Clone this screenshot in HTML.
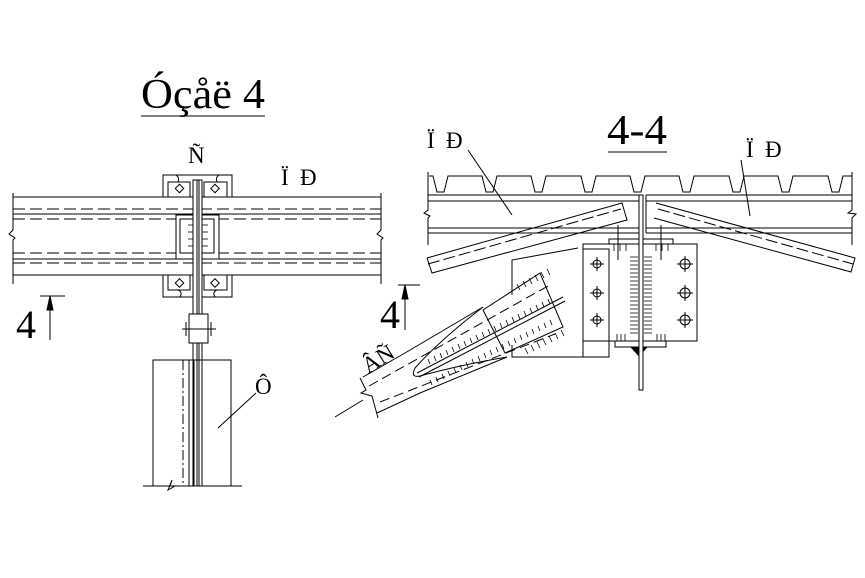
<!DOCTYPE html>
<html><head><meta charset="utf-8"><style>
html,body{margin:0;padding:0;background:#fff;}
svg{display:block;}
text{font-family:"Liberation Serif",serif;fill:#000;}
</style></head><body>
<svg width="865" height="578" viewBox="0 0 865 578" xmlns="http://www.w3.org/2000/svg">
<g stroke="#000" stroke-width="1" fill="none">
<!-- LEFT VIEW -->
<line x1="13" y1="197" x2="381" y2="197"/>
<line x1="13" y1="214" x2="381" y2="214"/>
<line x1="13" y1="259" x2="381" y2="259"/>
<line x1="13" y1="275" x2="381" y2="275"/>
<g stroke-dasharray="12,5">
<line x1="13" y1="209" x2="381" y2="209"/>
<line x1="13" y1="219" x2="381" y2="219"/>
<line x1="13" y1="253" x2="381" y2="253"/>
<line x1="13" y1="263" x2="381" y2="263"/>
</g>
<polyline points="13,193 13,230 9,234 15,238 13,240 13,284"/>
<polyline points="381,193 381,230 377,234 383,238 381,240 381,284"/>
<rect x="163" y="175" width="69" height="22" fill="#fff"/>
<rect x="168" y="182" width="22" height="15"/>
<rect x="204" y="182" width="23" height="15"/>
<rect x="176.5" y="185.5" width="6" height="6" transform="rotate(45 179.5 188.5)"/>
<rect x="212" y="185.5" width="6" height="6" transform="rotate(45 215 188.5)"/>
<rect x="163" y="275" width="69" height="22" fill="#fff"/>
<rect x="168" y="275" width="22" height="15"/>
<rect x="204" y="275" width="23" height="15"/>
<rect x="176.5" y="280" width="6" height="6" transform="rotate(45 179.5 283)"/>
<rect x="212" y="280" width="6" height="6" transform="rotate(45 215 283)"/>
<path d="M178,290 Q183,292 180,297 M217,290 Q212,292 215,297"/>
<path d="M178,182 Q180,178 176,175 M217,182 Q215,178 219,175"/>
<rect x="176" y="215" width="43" height="44" fill="#fff"/>
<rect x="180" y="219" width="34" height="34"/>
<g stroke-width="0.8">
<line x1="188" y1="225" x2="196" y2="225"/><line x1="188" y1="232" x2="196" y2="232"/><line x1="188" y1="239" x2="196" y2="239"/><line x1="188" y1="246" x2="196" y2="246"/>
<line x1="200" y1="225" x2="208" y2="225"/><line x1="200" y1="232" x2="208" y2="232"/><line x1="200" y1="239" x2="208" y2="239"/><line x1="200" y1="246" x2="208" y2="246"/>
</g>
<rect x="193" y="180" width="9" height="306" fill="#fff"/>
<line x1="197" y1="180" x2="197" y2="486"/>
<line x1="199" y1="180" x2="199" y2="486"/>
<rect x="189" y="314" width="19" height="29" fill="#fff"/>
<line x1="182" y1="329" x2="216" y2="329"/>
<line x1="186" y1="322" x2="186" y2="336"/><line x1="211" y1="322" x2="211" y2="336"/>
<rect x="153" y="360" width="78" height="126"/>
<line x1="183" y1="360" x2="183" y2="486" stroke-dasharray="10,3,2,3"/>
<line x1="202" y1="360" x2="202" y2="486" stroke-dasharray="10,3,2,3"/>
<line x1="189" y1="360" x2="189" y2="486"/>
<line x1="194" y1="360" x2="194" y2="486"/>
<polyline points="143,486 170,486 172,480 168,490 175,486 242,486"/>
<line x1="218" y1="428" x2="256" y2="393"/>
<line x1="40" y1="296" x2="65" y2="296"/>
<line x1="50" y1="340" x2="50" y2="298"/>
<polygon points="50,296 47,310 53,310" fill="#000"/>
<line x1="141" y1="116" x2="265" y2="116"/>

<!-- RIGHT VIEW -->
<line x1="608" y1="152" x2="667" y2="152"/>
<polyline points="429,176 433,176 437,192 444,192 448,176 482,176 486,192 493,192 497,176 531,176 535,192 542,192 546,176 581,176 585,192 592,192 596,176 630,176 634,192 641,192 645,176 679,176 683,192 690,192 694,176 729,176 733,192 740,192 744,176 778,176 782,192 789,192 793,176 828,176 832,192 839,192 843,176 852,176"/>
<line x1="428" y1="195" x2="640" y2="195"/><line x1="646" y1="195" x2="852" y2="195"/>
<line x1="428" y1="201" x2="640" y2="201"/><line x1="646" y1="201" x2="852" y2="201"/>
<line x1="428" y1="228" x2="640" y2="228"/><line x1="646" y1="228" x2="852" y2="228"/>
<line x1="428" y1="233" x2="640" y2="233"/><line x1="646" y1="233" x2="852" y2="233"/>
<line x1="640" y1="195" x2="640" y2="233"/><line x1="646" y1="195" x2="646" y2="233"/>
<polyline points="428,172 428,210 424,213 430,216 428,218 428,245"/>
<polyline points="852,172 852,210 848,213 856,214 852,218 852,245"/>
<!-- sloped purlins -->
<polyline points="427,258 622,203 627,220 432,273 427,258"/>
<line x1="428" y1="264" x2="621" y2="209" stroke-dasharray="12,4"/>
<polyline points="656,203 855,258 851,272 654,218"/>
<line x1="658" y1="209" x2="853" y2="264" stroke-dasharray="12,4"/>
<line x1="468" y1="150" x2="512" y2="215"/>
<line x1="741" y1="160" x2="750" y2="216"/>
<!-- gusset -->
<rect x="609" y="239" width="64" height="5" fill="#fff"/>
<rect x="583" y="244" width="114" height="97" fill="#fff"/>
<rect x="583" y="249" width="26" height="108"/>
<rect x="615" y="341" width="51" height="6"/>
<polygon points="631,347 647,347 639,356" fill="#000"/>
<rect x="639" y="195" width="4" height="195" fill="#fff"/>
<line x1="618" y1="225" x2="618" y2="260"/><line x1="661" y1="225" x2="661" y2="260"/>
<g stroke-width="0.8">
<path d="M630,257h8M630,261h8M630,265h8M630,269h8M630,273h8M630,277h8M630,281h8M630,285h8M630,289h8M630,293h8M630,297h8M630,301h8M630,305h8M630,309h8M630,313h8M630,317h8M630,321h8M630,325h8M630,329h8M630,333h8"/>
<path d="M644,257h8M644,261h8M644,265h8M644,269h8M644,273h8M644,277h8M644,281h8M644,285h8M644,289h8M644,293h8M644,297h8M644,301h8M644,305h8M644,309h8M644,313h8M644,317h8M644,321h8M644,325h8M644,329h8M644,333h8"/>
<path d="M617,334v7M621,334v7M625,334v7M657,334v7M661,334v7M665,334v7"/>
<path d="M614,244v7M620,244v7M626,244v7M656,244v7M662,244v7M668,244v7"/>
</g>
<g>
<circle cx="597" cy="264" r="4"/><path d="M590,264h14M597,257v14"/>
<circle cx="597" cy="293" r="4"/><path d="M590,293h14M597,286v14"/>
<circle cx="597" cy="320" r="4"/><path d="M590,320h14M597,313v14"/>
<circle cx="685" cy="264" r="5"/><path d="M677,264h16M685,256v16"/>
<circle cx="685" cy="293" r="5"/><path d="M677,293h16M685,285v16"/>
<circle cx="685" cy="320" r="5"/><path d="M677,320h16M685,312v16"/>
</g>
<!-- brace -->
<polyline points="512,295 512,260 578,248"/>
<polyline points="512,345 512,357 609,357"/>
<polyline points="363,377 405,353 483,307"/>
<polyline points="377,413 420,393 507,357"/>
<path d="M483,307 Q440,340 415,368 Q410,378 420,376 Q460,365 507,357"/>
<line x1="417" y1="373" x2="563" y2="297"/>
<line x1="419" y1="377" x2="565" y2="301"/>
<polygon points="483,310 540,273 563,327 505,353"/>
<line x1="369" y1="386" x2="548" y2="286" stroke-dasharray="10,5"/>
<line x1="380" y1="402" x2="555" y2="334" stroke-dasharray="10,5"/>
<g stroke-width="0.8">
<path d="M430,364l-2,-5M436,361l-2,-5M442,358l-2,-5M448,355l-2,-5M454,352l-2,-5M460,349l-2,-5M466,346l-2,-5M472,343l-2,-5M478,340l-2,-5M484,337l-2,-5M490,334l-2,-5M496,331l-2,-5M502,328l-2,-5M508,325l-2,-5M514,322l-2,-5M520,319l-2,-5M526,316l-2,-5M532,313l-2,-5M538,310l-2,-5M544,307l-2,-5M550,304l-2,-5"/>
<path d="M430,380l2,5M436,377l2,5M442,374l2,5M448,371l2,5M454,368l2,5M460,365l2,5M466,362l2,5M472,359l2,5M478,356l2,5M484,353l2,5M490,350l2,5M496,347l2,5M502,344l2,5M508,341l2,5M514,338l2,5M520,335l2,5M526,332l2,5M532,329l2,5M538,326l2,5M544,323l2,5M550,320l2,5"/>
<path d="M520,290l-3,-6M526,287l-3,-6M532,284l-3,-6M538,281l-3,-6M544,278l-3,-6M550,275l-3,-6"/>
<path d="M525,348l3,6M531,345l3,6M537,342l3,6M543,339l3,6M549,336l3,6M555,333l3,6M561,330l3,6"/>
</g>
<polyline points="360,378 366,390 361,393 372,396 378,418"/>
<line x1="335" y1="417" x2="363" y2="400"/>
<line x1="398" y1="285" x2="420" y2="285"/>
<line x1="405" y1="330" x2="405" y2="287"/>
<polygon points="405,285 402,299 408,299" fill="#000"/>
</g>
<text x="141" y="108" font-size="42" textLength="124" lengthAdjust="spacingAndGlyphs">Óçåë 4</text>
<text x="188" y="163" font-size="23">Ñ</text>
<text x="281" y="185" font-size="23">Ï</text><text x="300" y="185" font-size="23">Ð</text>
<text x="16" y="338" font-size="40">4</text>
<text x="255" y="394" font-size="23">Ô</text>
<text x="607" y="144" font-size="42" textLength="60" lengthAdjust="spacingAndGlyphs">4-4</text>
<text x="427" y="148" font-size="23">Ï</text><text x="446" y="148" font-size="23">Ð</text>
<text x="746" y="157" font-size="23">Ï</text><text x="765" y="157" font-size="23">Ð</text>
<text x="380" y="328" font-size="40">4</text>
<text x="0" y="0" font-size="23" transform="translate(368,374) rotate(-32)">ÂÑ</text>
</svg>
</body></html>
